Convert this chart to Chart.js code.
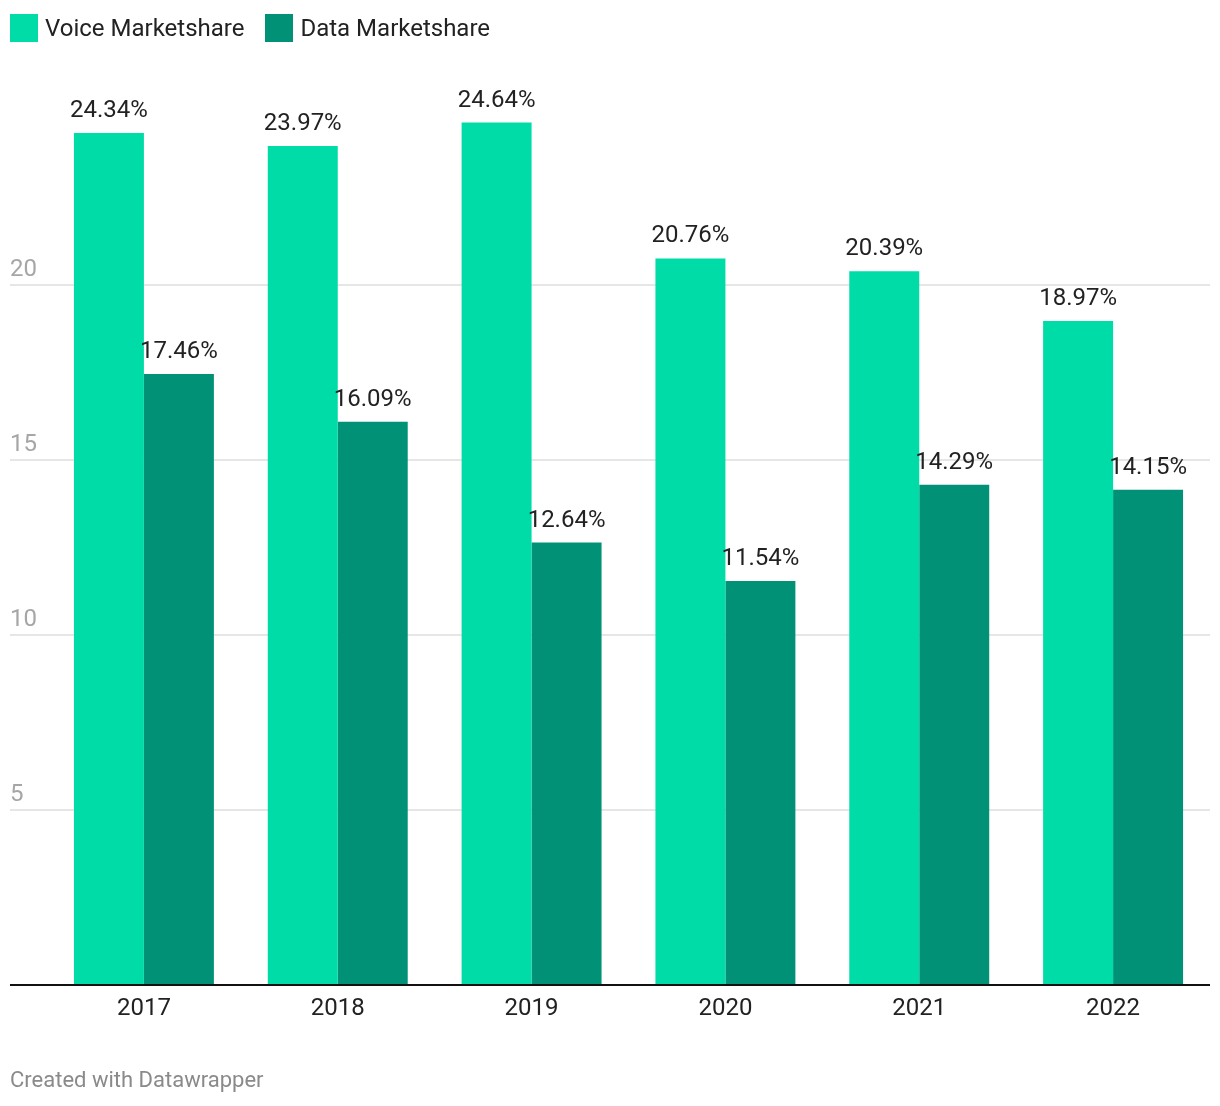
<!DOCTYPE html>
<html>
<head>
<meta charset="utf-8">
<script src="https://cdn.jsdelivr.net/npm/chart.js@4/dist/chart.umd.min.js"></script>
<style>
  html, body { margin: 0; padding: 0; background: #fff; }
  body { width: 1220px; height: 1106px; position: relative; font-family: Roboto, sans-serif; overflow: hidden; }
  #wrap { position: absolute; left: 0; top: 0; width: 1220px; height: 1106px; }
  .legend { position: absolute; left: 10px; top: 14px; display: flex; align-items: center; font-size: 24px; color: #222; }
  .legend__item { display: flex; align-items: center; margin-right: 21px; height: 28px; }
  .legend__box { width: 28px; height: 28px; margin-right: 7px; }
  .footer { position: absolute; left: 10px; top: 1067px; font-size: 22px; color: #8a8a8a; }
</style>
</head>
<body>
<div id="wrap"><canvas id="chart" width="1220" height="1106"></canvas></div>
<div class="legend" id="legend"></div>
<div class="footer">Created with Datawrapper</div>
<script>
// ─── Data ───
const years = ['2017', '2018', '2019', '2020', '2021', '2022'];
const voiceShare = [24.34, 23.97, 24.64, 20.76, 20.39, 18.97];
const dataShare = [17.46, 16.09, 12.64, 11.54, 14.29, 14.15];
const yTicks = [5, 10, 15, 20];

const COLORS = { voice: '#00dca8', data: '#009176' };

// ─── Legend (html) ───
document.getElementById('legend').innerHTML = [
  ['Voice Marketshare', COLORS.voice],
  ['Data Marketshare', COLORS.data],
].map(([label, c]) => `
  <div class="legend__item"><span class="legend__box" style="background:${c}"></span>${label}</div>`).join('');

// ─── Plugins ───
// datawrapper-style grid: lines run to the left edge, labels sit above them
const gridPlugin = {
  id: 'dwGrid',
  beforeDatasetsDraw(chart) {
    const { ctx, chartArea, scales } = chart;
    ctx.save();
    ctx.strokeStyle = '#e6e6e6';
    ctx.lineWidth = 2;
    ctx.fillStyle = '#a6a6a6';
    ctx.font = '24px Roboto';
    ctx.textAlign = 'left';
    ctx.textBaseline = 'alphabetic';
    yTicks.forEach((t) => {
      const y = Math.round(scales.y.getPixelForValue(t));
      ctx.beginPath();
      ctx.moveTo(10, y);
      ctx.lineTo(chartArea.right, y);
      ctx.stroke();
      ctx.fillText(String(t), 10, y - 9);
    });
    ctx.restore();
  },
  afterDatasetsDraw(chart) {
    const { ctx, chartArea, scales } = chart;
    const y0 = scales.y.getPixelForValue(0);
    ctx.save();
    ctx.strokeStyle = '#111';
    ctx.lineWidth = 2;
    ctx.beginPath();
    ctx.moveTo(10, y0);
    ctx.lineTo(chartArea.right, y0);
    ctx.stroke();
    // value labels
    ctx.fillStyle = '#222';
    ctx.font = '24px Roboto';
    ctx.textAlign = 'center';
    ctx.textBaseline = 'alphabetic';
    chart.data.datasets.forEach((ds, i) => {
      chart.getDatasetMeta(i).data.forEach((bar, j) => {
        ctx.fillText(ds.data[j].toFixed(2) + '%', bar.x, bar.y - 16);
      });
    });
    ctx.restore();
  },
};

// ─── Chart ───
new Chart(document.getElementById('chart'), {
  type: 'bar',
  data: {
    labels: years,
    datasets: [
      { label: 'Voice Marketshare', data: voiceShare, backgroundColor: COLORS.voice },
      { label: 'Data Marketshare', data: dataShare, backgroundColor: COLORS.data },
    ],
  },
  options: {
    responsive: false,
    animation: false,
    devicePixelRatio: 1,
    layout: { padding: { left: 47, right: 10, top: 75, bottom: 81 } },
    plugins: { legend: { display: false }, tooltip: { enabled: false } },
    datasets: { bar: { categoryPercentage: 0.722, barPercentage: 1 } },
    scales: {
      x: {
        grid: { display: false, drawTicks: false },
        border: { display: false },
        ticks: { color: '#222', font: { family: 'Roboto', size: 24 }, padding: 10 },
        afterFit: (s) => { s.height = 40; },
      },
      y: {
        display: false,
        min: 0,
        max: 26,
      },
    },
  },
  plugins: [gridPlugin],
});
</script>
</body>
</html>
